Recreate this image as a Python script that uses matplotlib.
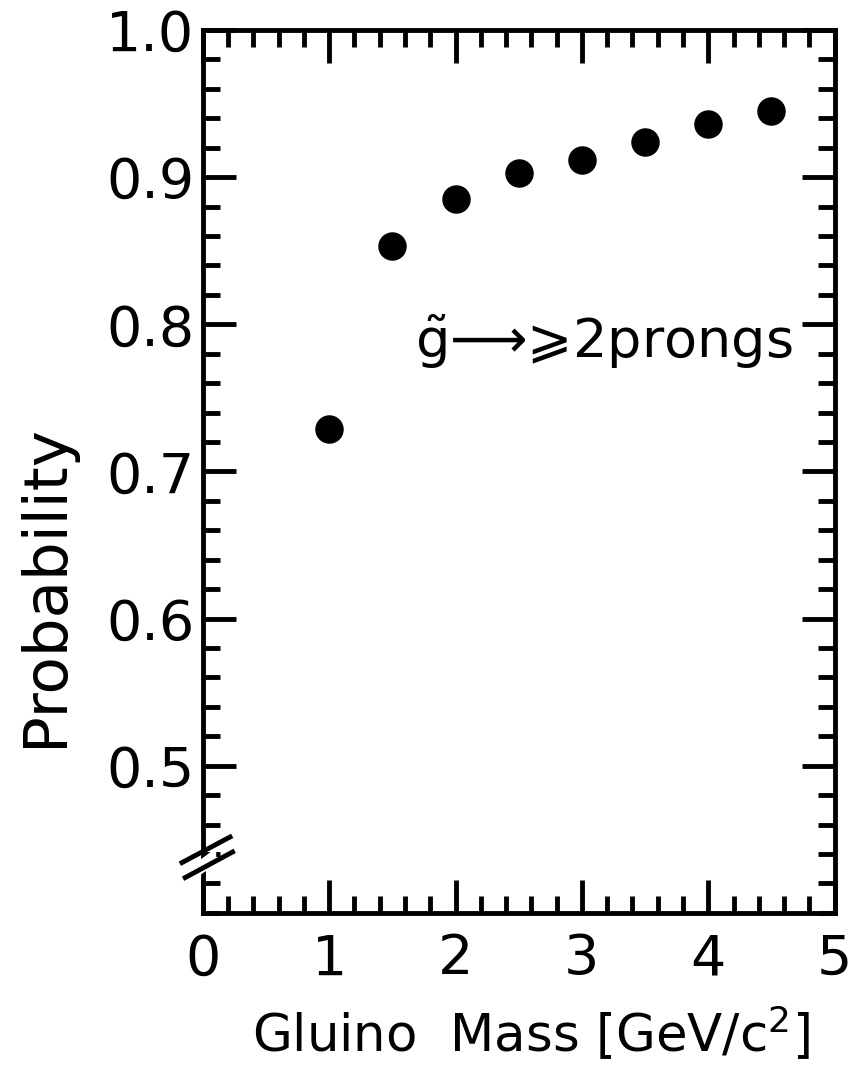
import matplotlib.pyplot as plt
from matplotlib.ticker import MultipleLocator

# gluino mass [GeV/c^2] and probability
gluino_mass = [1.0, 1.5, 2.0, 2.5, 3.0, 3.5, 4.0, 4.5]
probability = [0.729, 0.853, 0.885, 0.903, 0.912, 0.924, 0.936, 0.945]

x_ticks = [0, 1, 2, 3, 4, 5]
y_ticks = [0.5, 0.6, 0.7, 0.8, 0.9, 1.0]

plt.rcParams['font.family'] = ['DejaVu Sans']
plt.rcParams['mathtext.fontset'] = 'dejavusans'

fig = plt.figure(figsize=(8.56, 10.74), dpi=100)
ax = fig.add_axes([0.237, 0.150, 0.738, 0.822])

ax.scatter(gluino_mass, probability, s=380, color='black', zorder=3)

ax.set_xlim(0, 5)
ax.set_ylim(0.40, 1.0)
ax.set_xticks(x_ticks)
ax.set_yticks(y_ticks)
ax.set_yticklabels([f'{v:.1f}' for v in y_ticks])
ax.xaxis.set_minor_locator(MultipleLocator(0.2))
ax.yaxis.set_minor_locator(MultipleLocator(0.02))

ax.tick_params(which='both', direction='in', top=True, right=True, width=3.5,
               labelsize=40)
ax.tick_params(axis='y', pad=6)
ax.tick_params(axis='x', pad=14)
ax.tick_params(which='major', length=24)
ax.tick_params(which='minor', length=12)
for sp in ax.spines.values():
    sp.set_linewidth(3.5)

ax.set_xlabel('Gluino  Mass [GeV/c$^2$]', fontsize=37)
ax.xaxis.set_label_coords(0.52, -0.103)
ax.set_ylabel('Probability', fontsize=44)
ax.yaxis.set_label_coords(-0.203, 0.371)

ax.text(1.68, 0.788, r'$\tilde{\mathrm{g}}$⟶⩾2prongs', fontsize=39,
        ha='left', va='center')

# axis break marks on the left spine
ax.fill([-0.02, 0.02, 0.02, -0.02], [0.051, 0.072, 0.056, 0.036], transform=ax.transAxes,
        color='white', clip_on=False, zorder=4)
ax.plot([-0.033, 0.043], [0.057, 0.086], transform=ax.transAxes, color='black', lw=3.5,
        clip_on=False, zorder=5)
ax.plot([-0.028, 0.047], [0.040, 0.069], transform=ax.transAxes, color='black', lw=3.5,
        clip_on=False, zorder=5)

fig.savefig('out.png', dpi=100)
